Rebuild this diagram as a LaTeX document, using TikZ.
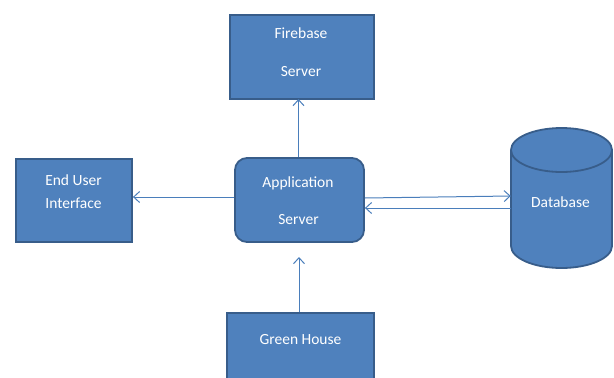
\documentclass[tikz,border=0pt]{standalone}
\usepackage{fontspec}
\setmainfont{Carlito}
\usetikzlibrary{arrows.meta}
\definecolor{boxfill}{HTML}{4F81BD}
\definecolor{boxline}{HTML}{385D8A}
\definecolor{arrowc}{HTML}{4A7EBB}
\begin{document}
\begin{tikzpicture}[x=1pt,y=-1pt,
  box/.style={draw=boxline,fill=boxfill,line width=1.8pt,inner sep=0pt},
  lbl/.style={text=white,font=\fontsize{15.5}{18}\selectfont,inner sep=0pt,anchor=base},
  conn/.style={draw=arrowc,line width=1pt,-{Straight Barb[length=6pt,width=11pt,line width=1pt]}}]
\useasboundingbox (0,0) rectangle (614,378);
\clip (0,0) rectangle (614,378);
\fill[white] (0,0) rectangle (614,378);
% boxes
\node[box,minimum width=144pt,minimum height=84pt] (fb) at (302,57) {};
\node[box,minimum width=116pt,minimum height=83pt] (eu) at (74,200.5) {};
\node[box,rounded corners=12pt,minimum width=129pt,minimum height=84pt] (app) at (299.5,200) {};
\node[box,minimum width=147pt,minimum height=90pt] (gh) at (300.5,358) {};
% database cylinder
\draw[draw=boxline,fill=boxfill,line width=1.8pt]
  (511,150) -- (511,246) arc[start angle=180,end angle=0,x radius=50.5,y radius=22]
  -- (612,150) arc[start angle=0,end angle=-180,x radius=50.5,y radius=22] -- cycle;
\draw[draw=boxline,line width=1.8pt] (511,150) arc[start angle=180,end angle=0,x radius=50.5,y radius=22];
\node[minimum width=101pt,minimum height=140pt,inner sep=0pt] (db) at (561.5,198) {};
% labels
\node[lbl] (t1) at (301,38) {Firebase};
\node[lbl] (t2) at (301,76) {Server};
\node[lbl] (t3) at (73.5,185) {End User};
\node[lbl] (t4) at (73.5,208) {Interface};
\node[lbl] (t5) at (298,187) {Application};
\node[lbl] (t6) at (298.5,224) {Server};
\node[lbl] (t7) at (560.5,207) {Database};
\node[lbl] (t8) at (300.5,344) {Green House};
% connectors
\coordinate (ghtip) at (299,257);
\draw[conn] (app.north -| 298.5,0) -- (298.5,99);
\draw[conn] (app.west |- 0,197) -- (eu.east |- 0,197);
\draw[conn] (app.east |- 0,198) -- (db.west |- 0,196);
\draw[conn] (db.west |- 0,208) -- (app.east |- 0,208);
\draw[conn] (gh.north -| 299,0) -- (ghtip);
\end{tikzpicture}
\end{document}
